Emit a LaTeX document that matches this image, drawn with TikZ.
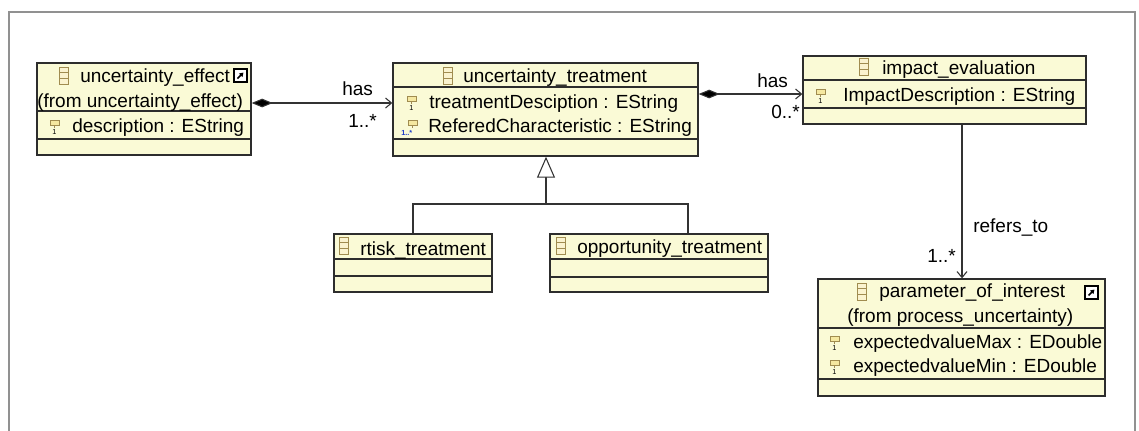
\documentclass[tikz,border=0pt]{standalone}
\usepackage{fontspec}
\setmainfont{Liberation Sans}
\usetikzlibrary{arrows.meta,fit,calc}
\definecolor{boxfill}{RGB}{250,250,214}
\definecolor{boxline}{RGB}{45,45,45}
\definecolor{iconline}{RGB}{160,140,80}
\definecolor{iconfill}{RGB}{245,232,160}
\definecolor{framecol}{RGB}{145,145,145}
\definecolor{multcol}{RGB}{30,60,200}
\newcommand\clsicon[2]{%
  \draw[iconline, fill=iconfill!50, line width=0.7pt] (#1,#2) rectangle ++(9,17);
  \draw[iconline, line width=0.7pt] (#1,#2+5.7) -- ++(9,0) (#1,#2+11.3) -- ++(9,0);}
\newcommand\attricon[3]{%
  \draw[iconline, fill=iconfill, line width=0.6pt] (#1,#2) rectangle ++(9,5);
  \draw[iconline, line width=0.6pt] (#1+4.5,#2+5) -- ++(0,3);
  \node[inner sep=0pt, font=\fontsize{5.5}{5.5}\selectfont] (#3) at (#1+4.5,#2+12) {1};}
\newcommand\shorticon[2]{%
  \draw[black, fill=white, line width=0.8pt] (#1,#2) rectangle ++(13,13);
  \draw[black, line width=1.1pt, -{Triangle[length=3pt,width=3.5pt]}] (#1+3.5,#2+9.5) -- (#1+9.5,#2+3.5);}
\begin{document}
\begin{tikzpicture}[x=0.75pt,y=-0.75pt,
  font=\fontsize{14.25}{17}\selectfont,
  box/.style={draw=boxline, fill=boxfill, line width=1pt, inner sep=0pt},
  divline/.style={draw=boxline, line width=1pt},
  txt/.style={anchor=base west, inner sep=0pt, text=black},
  conn/.style={draw=black!80, line width=0.8pt},
  comp/.style={conn, {Diamond[length=15.75pt,width=6.5pt,fill=black]}-{Straight Barb[length=4.5pt,width=7.5pt]}},
  assoc/.style={conn, -{Straight Barb[length=4.5pt,width=7.5pt]}},
  gen/.style={conn, -{Triangle[open,length=15.75pt,width=13.5pt,fill=white]}}]
\useasboundingbox (0,0) rectangle (1139,430);
\draw[framecol, line width=2pt] (9,12) rectangle (1135,450);

% ---- boxes
\coordinate (b1nw) at (37,63);  \coordinate (b1se) at (251,155);
\node[box, fit=(b1nw)(b1se)] (b1) {};
\coordinate (b2nw) at (393,63); \coordinate (b2se) at (698,156);
\node[box, fit=(b2nw)(b2se)] (b2) {};
\coordinate (b3nw) at (803,56); \coordinate (b3se) at (1086,124);
\node[box, fit=(b3nw)(b3se)] (b3) {};
\coordinate (b4nw) at (334,234); \coordinate (b4se) at (492,292);
\node[box, fit=(b4nw)(b4se)] (b4) {};
\coordinate (b5nw) at (818,279); \coordinate (b5se) at (1105,396);
\node[box, fit=(b5nw)(b5se)] (b5) {};
\coordinate (b6nw) at (550,234); \coordinate (b6se) at (768,292);
\node[box, fit=(b6nw)(b6se)] (b6) {};

% ---- dividers
\draw[divline] (b1.west |- 0,111) -- (b1.east |- 0,111);
\draw[divline] (b1.west |- 0,139) -- (b1.east |- 0,139);
\draw[divline] (b2.west |- 0,87) -- (b2.east |- 0,87);
\draw[divline] (b2.west |- 0,139) -- (b2.east |- 0,139);
\draw[divline] (b3.west |- 0,80) -- (b3.east |- 0,80);
\draw[divline] (b3.west |- 0,108) -- (b3.east |- 0,108);
\draw[divline] (b4.west |- 0,259) -- (b4.east |- 0,259);
\draw[divline] (b4.west |- 0,276) -- (b4.east |- 0,276);
\draw[divline] (b5.west |- 0,328) -- (b5.east |- 0,328);
\draw[divline] (b5.west |- 0,379) -- (b5.east |- 0,379);
\draw[divline] (b6.west |- 0,259) -- (b6.east |- 0,259);
\draw[divline] (b6.west |- 0,277) -- (b6.east |- 0,277);

% ---- box 1
\clsicon{59}{67}
\node[txt] (t1a) at (80,82) {uncertainty\_effect};
\shorticon{234}{69}
\node[txt] (t1b) at (37,107) {(from uncertainty\_effect)};
\attricon{50}{120}{i1}
\node[txt] (t1c) at (72,132) {description : EString};

% ---- box 2
\clsicon{443}{67}
\node[txt] (t2a) at (463,82) {uncertainty\_treatment};
\attricon{407}{96}{i2}
\node[txt] (t2b) at (429,108) {treatmentDesciption : EString};
\draw[iconline, fill=iconfill, line width=0.6pt] (408,120) rectangle ++(9,5);
\draw[iconline, line width=0.6pt] (412.5,125) -- ++(0,3);
\node[inner sep=0pt, anchor=base west, text=multcol, font=\bfseries\fontsize{5.5}{5.5}\selectfont] (i3) at (401,135) {1..*};
\node[txt] (t2c) at (428,132) {ReferedCharacteristic : EString};

% ---- box 3
\clsicon{859}{58}
\node[txt] (t3a) at (882,74) {impact\_evaluation};
\attricon{816}{89}{i4}
\node[txt] (t3b) at (843,101) {ImpactDescription : EString};

% ---- box 4
\clsicon{339}{237}
\node[txt] (t4a) at (360,255) {rtisk\_treatment};

% ---- box 6
\clsicon{556}{237}
\node[txt] (t6a) at (577,253) {opportunity\_treatment};

% ---- box 5
\clsicon{857}{283}
\node[txt] (t5a) at (879,297) {parameter\_of\_interest};
\shorticon{1085}{286}
\node[txt] (t5b) at (847,322) {(from process\_uncertainty)};
\attricon{830}{336}{i5}
\node[txt] (t5c) at (853,348) {expectedvalueMax : EDouble};
\attricon{830}{360}{i6}
\node[txt] (t5d) at (853,372) {expectedvalueMin : EDouble};

% ---- connectors
\coordinate (h1) at (0,103);
\draw[comp] (b1.east |- h1) -- (b2.west |- h1);
\coordinate (h2) at (0,94);
\draw[comp] (b2.east |- h2) -- (b3.west |- h2);
\coordinate (v3) at (962,0);
\draw[assoc] (b3.south -| v3) -- (b5.north -| v3);
\coordinate (gj) at (546,204);
\coordinate (g6) at (688,0);
\draw[gen] (gj) -- (b2.south -| gj);
\draw[conn] (b4.north) |- (gj);
\draw[conn] (gj) -| (b6.north -| g6);

% ---- labels
\node[txt] (l1) at (342,95) {has};
\node[txt] (l2) at (348,127) {1..*};
\node[txt] (l3) at (757,87) {has};
\node[txt] (l4) at (771,118) {0..*};
\node[txt] (l5) at (973,232) {refers\_to};
\node[txt] (l6) at (927,262) {1..*};
\end{tikzpicture}
\end{document}
